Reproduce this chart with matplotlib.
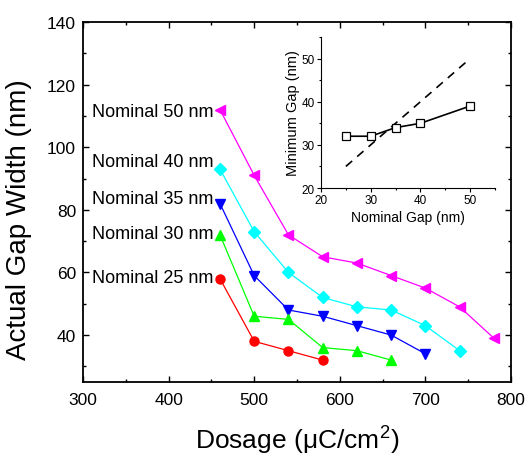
import matplotlib
matplotlib.use("Agg")
import matplotlib.pyplot as plt
from matplotlib.ticker import MultipleLocator

plt.rcParams['font.family'] = ['Liberation Sans', 'DejaVu Sans']
plt.rcParams['mathtext.fontset'] = 'custom'
plt.rcParams['mathtext.rm'] = 'Liberation Sans'

# ---- main data ----
dose_50 = [460, 500, 540, 580, 620, 660, 700, 740, 780]
gap_50 = [112, 91, 72, 65, 63, 59, 55, 49, 39]
dose_40 = [460, 500, 540, 580, 620, 660, 700, 740]
gap_40 = [93, 73, 60, 52, 49, 48, 43, 35]
dose_35 = [460, 500, 540, 580, 620, 660, 700]
gap_35 = [82, 59, 48, 46, 43, 40, 34]
dose_30 = [460, 500, 540, 580, 620, 660]
gap_30 = [72, 46, 45, 36, 35, 32]
dose_25 = [460, 500, 540, 580]
gap_25 = [58, 38, 35, 32]

series_labels = ["Nominal 50 nm", "Nominal 40 nm", "Nominal 35 nm",
                 "Nominal 30 nm", "Nominal 25 nm"]

# ---- inset data ----
nominal_gap = [25, 30, 35, 40, 50]
minimum_gap = [32, 32, 34, 35, 39]
ref_x = [25, 50]
ref_y = [25, 50]

x_ticks = [300, 400, 500, 600, 700, 800]
y_ticks = [40, 60, 80, 100, 120, 140]

W, H = 527, 464
fig = plt.figure(figsize=(W / 100, H / 100), dpi=100)
ax = fig.add_axes([83 / W, 1 - 383 / H, 428 / W, 360 / H])

styles = [
    (dose_50, gap_50, '#FF00FF', '<', 7.5),
    (dose_40, gap_40, '#00FFFF', 'D', 6.0),
    (dose_35, gap_35, '#0000FF', 'v', 7.5),
    (dose_30, gap_30, '#00FF00', '^', 7.5),
    (dose_25, gap_25, '#FF0000', 'o', 6.5),
]
for xs, ys, c, m, ms in styles:
    ax.plot(xs, ys, color=c, marker=m, markersize=ms, lw=0.9,
            markeredgecolor=c, markerfacecolor=c)

label_y = [111.5, 95.5, 83.5, 72.5, 58.5]
for txt, yy in zip(series_labels, label_y):
    ax.text(452, yy, txt, ha='right', va='center', fontsize=13)

ax.set_xlim(300, 800)
ax.set_ylim(25, 140)
ax.set_xticks(x_ticks)
ax.set_yticks(y_ticks)
ax.xaxis.set_minor_locator(MultipleLocator(50))
ax.yaxis.set_minor_locator(MultipleLocator(10))
ax.tick_params(which='both', direction='in', top=True, right=True,
               labelsize=12.5, width=1.0)
ax.tick_params(which='major', length=4)
ax.tick_params(which='minor', length=2.5)
ax.tick_params(axis='x', pad=7)
ax.tick_params(axis='y', pad=5)
for s in ax.spines.values():
    s.set_linewidth(1.3)
ax.set_xlabel('Dosage (\u03bcC/cm$^{2}$)', fontsize=19, labelpad=11)
ax.set_ylabel('Actual Gap Width (nm)', fontsize=20, va='bottom')
ax.yaxis.set_label_coords(-0.118, 0.455)

# ---- inset ----
ins = fig.add_axes([321 / W, 1 - 189 / H, 174 / W, 151 / H])
ins.patch.set_alpha(0)
ins.plot(ref_x, ref_y, color='black', lw=1.2, linestyle=(0, (5, 4)))
ins.plot(nominal_gap, minimum_gap, color='black', lw=1.2, marker='s',
         markersize=6, markerfacecolor='white', markeredgecolor='black',
         markeredgewidth=0.9)
ins.set_xlim(20, 55)
ins.set_ylim(20, 55)
ins.set_xticks([20, 30, 40, 50])
ins.set_yticks([20, 30, 40, 50])
ins.xaxis.set_minor_locator(MultipleLocator(5))
ins.yaxis.set_minor_locator(MultipleLocator(5))
ins.spines['top'].set_visible(False)
ins.spines['right'].set_visible(False)
ins.tick_params(which='both', direction='out', labelsize=8.5, pad=1.5, width=0.8)
ins.tick_params(which='major', length=3)
ins.tick_params(which='minor', length=1.5)
ins.set_xlabel('Nominal Gap (nm)', fontsize=10, labelpad=3)
ins.set_ylabel('Minimum Gap (nm)', fontsize=10.5, labelpad=1)

fig.savefig('out.png', dpi=100)
